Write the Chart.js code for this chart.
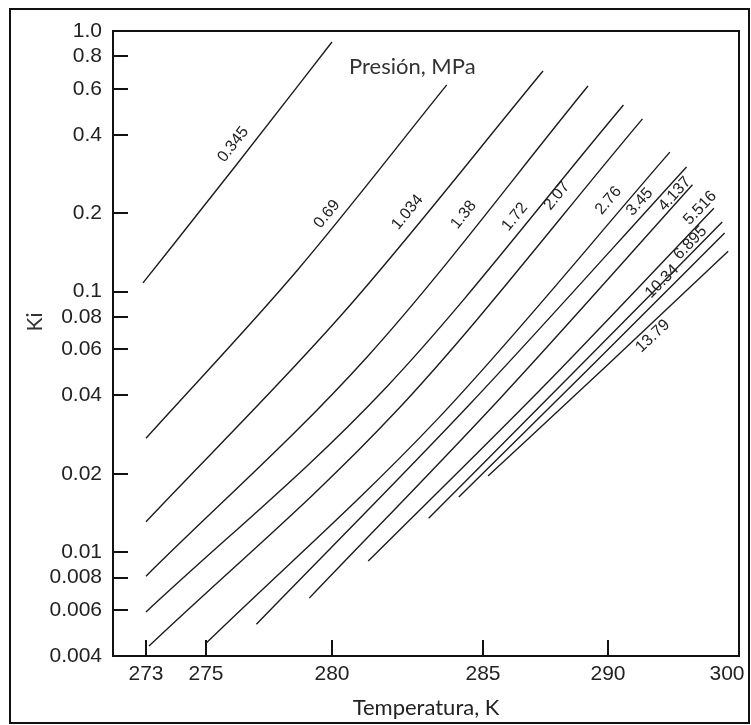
<!DOCTYPE html>
<html>
<head>
<meta charset="utf-8">
<script src="https://cdn.jsdelivr.net/npm/chart.js@4.4.1/dist/chart.umd.min.js"></script>
<style>
  html, body { margin: 0; padding: 0; background: #fff; }
  #wrap { position: relative; width: 751px; height: 725px; }
  #frame { position: absolute; left: 9px; top: 8px; width: 737px; height: 712px; border: 2px solid #111; pointer-events: none; }
  canvas { position: absolute; left: 0; top: 0; }
</style>
</head>
<body>
<div id="wrap">
  <canvas id="ki-chart" width="751" height="725"></canvas>
  <div id="frame"></div>
</div>
<script>
// pressure of each curve, MPa
const pressures = ["0.345", "0.69", "1.034", "1.38", "1.72", "2.07", "2.76", "3.45", "4.137", "5.516", "6.895", "10.34", "13.79"];

// temperature (K) and Ki: start, middle, end
const t_0345 = [272.9, 276.2, 280.0];
const k_0345 = [0.108, 0.306, 0.907];
const t_069 = [273.0, 278.6, 283.8];
const k_069 = [0.0274, 0.120, 0.621];
const t_1034 = [273.0, 280.4, 287.4];
const k_1034 = [0.0131, 0.0835, 0.702];
const t_138 = [273.0, 281.2, 289.2];
const k_138 = [0.0081, 0.0568, 0.615];
const t_172 = [273.0, 281.8, 291.3];
const k_172 = [0.0059, 0.0430, 0.520];
const t_207 = [273.1, 282.1, 292.9];
const k_207 = [0.00437, 0.0345, 0.460];
const t_276 = [275.0, 283.5, 295.2];
const k_276 = [0.00448, 0.0325, 0.343];
const t_345 = [277.0, 284.6, 296.6];
const k_345 = [0.0053, 0.0374, 0.301];
const t_4137 = [279.1, 285.7, 297.1];
const k_4137 = [0.00667, 0.0391, 0.257];
const t_5516 = [281.2, 287.3, 298.9];
const k_5516 = [0.00925, 0.0421, 0.209];
const t_6895 = [283.2, 288.6, 299.6];
const k_6895 = [0.0135, 0.0487, 0.185];
const t_1034b = [284.2, 289.3, 299.8];
const k_1034b = [0.0163, 0.0514, 0.168];
const t_1379 = [285.2, 290.0, 300.1];
const k_1379 = [0.0196, 0.0525, 0.143];

const temps = [t_0345, t_069, t_1034, t_138, t_172, t_207, t_276, t_345, t_4137, t_5516, t_6895, t_1034b, t_1379];
const kis = [k_0345, k_069, k_1034, k_138, k_172, k_207, k_276, k_345, k_4137, k_5516, k_6895, k_1034b, k_1379];

// temperature where each curve's label sits
const labelT = [276.55, 280.17, 282.91, 284.8, 286.68, 288.48, 291.0, 293.36, 296.05, 298.36, 297.4, 295.13, 293.19];

// axis ticks
const xTicks = [273, 275, 280, 285, 290, 300];
const yTicks = [0.004, 0.006, 0.008, 0.01, 0.02, 0.04, 0.06, 0.08, 0.1, 0.2, 0.4, 0.6, 0.8, 1.0];
const yTickLabels = ["0.004", "0.006", "0.008", "0.01", "0.02", "0.04", "0.06", "0.08", "0.1", "0.2", "0.4", "0.6", "0.8", "1.0"];

// the temperature axis of the original is not evenly spaced: where each tick sits across the width
const xTickFrac = [0.0527, 0.1486, 0.3498, 0.5911, 0.7907, 0.9808];
// label distance from its curve, px (negative = below the curve)
const labelOff = [15, 13, 16, 17, 13, 17, 15, 11, 7, 10, 8, 10, -10];

function warpDecimal(v) {
  const n = xTicks.length;
  let i = 0;
  if (v >= xTicks[n - 1]) i = n - 2;
  else while (i < n - 2 && v > xTicks[i + 1]) i++;
  const slope = (xTickFrac[i + 1] - xTickFrac[i]) / (xTicks[i + 1] - xTicks[i]);
  return xTickFrac[i] + (v - xTicks[i]) * slope;
}
function unwarpDecimal(d) {
  const n = xTicks.length;
  let i = 0;
  if (d >= xTickFrac[n - 1]) i = n - 2;
  else while (i < n - 2 && d > xTickFrac[i + 1]) i++;
  const slope = (xTicks[i + 1] - xTicks[i]) / (xTickFrac[i + 1] - xTickFrac[i]);
  return xTicks[i] + (d - xTickFrac[i]) * slope;
}

class WarpScale extends Chart.LinearScale {
  getPixelForValue(value) {
    return this.getPixelForDecimal(warpDecimal(value));
  }
  getValueForPixel(pixel) {
    return unwarpDecimal(this.getDecimalForPixel(pixel));
  }
}
WarpScale.id = 'warp';
WarpScale.defaults = Chart.LinearScale.defaults;
Chart.register(WarpScale);

Chart.defaults.font.family = "'Liberation Sans', Arial, sans-serif";
Chart.defaults.color = '#222';

function bez(p0, p1, p2, p3, t) {
  const u = 1 - t;
  return u * u * u * p0 + 3 * u * u * t * p1 + 3 * u * t * t * p2 + t * t * t * p3;
}
function bezD(p0, p1, p2, p3, t) {
  const u = 1 - t;
  return 3 * u * u * (p1 - p0) + 6 * u * t * (p2 - p1) + 3 * t * t * (p3 - p2);
}
function pointOnCurve(meta, px) {
  const pts = meta.data;
  for (let i = 0; i < pts.length - 1; i++) {
    const a = pts[i], b = pts[i + 1];
    if (px < a.x || px > b.x) continue;
    const c1x = a.cp2x ?? a.x, c1y = a.cp2y ?? a.y;
    const c2x = b.cp1x ?? b.x, c2y = b.cp1y ?? b.y;
    let lo = 0, hi = 1, t = 0.5;
    for (let k = 0; k < 40; k++) {
      t = (lo + hi) / 2;
      if (bez(a.x, c1x, c2x, b.x, t) < px) lo = t; else hi = t;
    }
    return {
      x: px,
      y: bez(a.y, c1y, c2y, b.y, t),
      angle: Math.atan2(bezD(a.y, c1y, c2y, b.y, t), bezD(a.x, c1x, c2x, b.x, t))
    };
  }
  return null;
}

const axisBox = {
  id: 'axisBox',
  afterDraw(chart) {
    const { ctx, chartArea: a, scales: { x, y } } = chart;
    ctx.save();
    ctx.strokeStyle = '#111';
    ctx.lineWidth = 2;
    ctx.strokeRect(a.left, a.top, a.right - a.left, a.bottom - a.top);
    ctx.beginPath();
    y.ticks.forEach(t => {
      const py = Math.round(y.getPixelForValue(t.value));
      ctx.moveTo(a.left, py);
      ctx.lineTo(a.left + 15, py);
    });
    x.ticks.forEach((t, i) => {
      if (i === x.ticks.length - 1) return; // no mark at 300
      const px = Math.round(x.getPixelForValue(t.value));
      ctx.moveTo(px, a.bottom);
      ctx.lineTo(px, a.bottom - 16);
    });
    ctx.stroke();

    // legend caption and y title
    ctx.fillStyle = '#333';
    ctx.font = "22px Lato, 'Open Sans', sans-serif";
    ctx.textAlign = 'left';
    ctx.textBaseline = 'alphabetic';
    ctx.fillText('Presión, MPa', a.left + 236, a.top + 43);

    ctx.save();
    ctx.font = "21px Lato, 'Open Sans', sans-serif";
    ctx.textAlign = 'center';
    ctx.textBaseline = 'middle';
    ctx.translate(a.left - 78, a.top + 291);
    ctx.rotate(-Math.PI / 2);
    ctx.fillText('Ki', 0, 0);
    ctx.restore();

    // curve labels
    ctx.fillStyle = '#222';
    ctx.font = "16px 'Liberation Sans', Arial, sans-serif";
    ctx.textAlign = 'center';
    ctx.textBaseline = 'middle';
    chart.data.datasets.forEach((ds, i) => {
      const meta = chart.getDatasetMeta(i);
      const p = pointOnCurve(meta, x.getPixelForValue(labelT[i]));
      if (!p) return;
      ctx.save();
      ctx.translate(p.x, p.y);
      ctx.rotate(p.angle);
      ctx.fillText(ds.label, 0, -labelOff[i]);
      ctx.restore();
    });
    ctx.restore();
  }
};

const datasets = pressures.map((p, i) => ({
  label: p,
  data: temps[i].map((t, j) => ({ x: t, y: kis[i][j] })),
  borderColor: '#1c1c1c',
  borderWidth: 1.4,
  pointRadius: 0,
  fill: false,
  cubicInterpolationMode: 'monotone'
}));

new Chart(document.getElementById('ki-chart'), {
  type: 'line',
  data: { datasets: datasets },
  options: {
    responsive: false,
    animation: false,
    layout: { padding: { left: 12, right: 12, top: 31, bottom: 0 } },
    plugins: {
      legend: { display: false },
      tooltip: { enabled: false }
    },
    scales: {
      x: {
        type: 'warp',
        min: 271.9,
        max: 301,
        grid: { display: false, drawTicks: false },
        border: { display: false },
        afterBuildTicks: s => { s.ticks = xTicks.map(v => ({ value: v })); },
        afterFit: s => { s.height = 69; },
        ticks: {
          autoSkip: false,
          maxRotation: 0,
          padding: 6,
          color: '#222',
          font: { size: 21 },
          callback: v => String(v)
        },
        title: {
          display: true,
          text: 'Temperatura, K',
          color: '#222',
          font: { family: "Lato, 'Open Sans', sans-serif", size: 22 },
          padding: { top: 0, bottom: 4 }
        }
      },
      y: {
        type: 'logarithmic',
        min: 0.004,
        max: 1.0,
        grid: { display: false, drawTicks: false },
        border: { display: false },
        afterBuildTicks: s => { s.ticks = yTicks.map(v => ({ value: v })); },
        afterFit: s => { s.width = 101; },
        ticks: {
          autoSkip: false,
          padding: 11,
          color: '#222',
          font: { size: 21 },
          callback: (v, i) => yTickLabels[i]
        },
        title: { display: false }
      }
    }
  },
  plugins: [axisBox]
});
</script>
</body>
</html>
